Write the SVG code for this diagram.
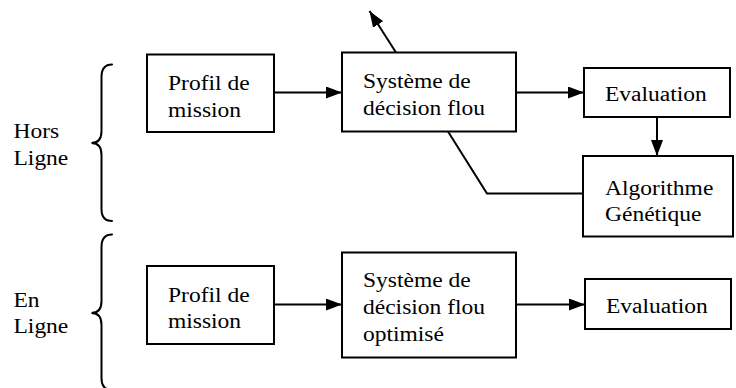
<svg xmlns="http://www.w3.org/2000/svg" width="736" height="388" viewBox="0 0 736 388">
  <style>
    .box { fill: #fff; stroke: #000; stroke-width: 2; }
    .t { font-family: "Liberation Serif", "Times New Roman", serif; font-size: 20px; fill: #000; }
    .wire { fill: none; stroke: #000; stroke-width: 2; }
    .brace { fill: none; stroke: #000; stroke-width: 2; stroke-linecap: round; }
  </style>
  <defs>
    <marker id="arrow" markerUnits="userSpaceOnUse" markerWidth="17" markerHeight="13" refX="16" refY="6" orient="auto">
      <path d="M0,0 L16,6 L0,12 z" fill="#000"/>
    </marker>
  </defs>
  <rect width="736" height="388" fill="#fff"/>

  <!-- phase labels with curly braces -->
  <g id="hors-ligne">
    <text class="t" transform="translate(13.5,138) scale(1.175,1)"><tspan x="0" y="0">Hors</tspan><tspan x="0" y="27">Ligne</tspan></text>
    <path class="brace" d="M112,64.5 Q101.5,64.5 101.5,77 L101.5,131 Q101.5,143 91.5,143 Q101.5,143 101.5,155 L101.5,209 Q101.5,221 112,221"/>
  </g>
  <g id="en-ligne">
    <text class="t" transform="translate(13.5,306.5) scale(1.175,1)"><tspan x="0" y="0">En</tspan><tspan x="0" y="27">Ligne</tspan></text>
    <path class="brace" d="M112,234.5 Q101.5,234.5 101.5,247 L101.5,301 Q101.5,313 91.5,313 Q101.5,313 101.5,325 L101.5,378 Q101.5,390 112,390"/>
  </g>

  <!-- connectors -->
  <g id="connectors">
    <line class="wire" x1="274" y1="92.5" x2="342" y2="92.5" marker-end="url(#arrow)"/>
    <line class="wire" x1="516" y1="92.5" x2="584" y2="92.5" marker-end="url(#arrow)"/>
    <line class="wire" x1="657" y1="117" x2="657" y2="156" marker-end="url(#arrow)"/>
    <line class="wire" x1="396" y1="52.5" x2="369.5" y2="11" marker-end="url(#arrow)"/>
    <polyline class="wire" points="448,131.5 487,193.5 583,193.5"/>
    <line class="wire" x1="274" y1="304.5" x2="342" y2="304.5" marker-end="url(#arrow)"/>
    <line class="wire" x1="516" y1="304.5" x2="585" y2="304.5" marker-end="url(#arrow)"/>
  </g>

  <!-- offline chain -->
  <g id="profil-1">
    <rect class="box" x="147" y="54.5" width="127" height="77.5"/>
    <text class="t" transform="translate(168,90) scale(1.175,1)"><tspan x="0" y="0">Profil de</tspan><tspan x="0" y="27">mission</tspan></text>
  </g>
  <g id="systeme-1">
    <rect class="box" x="342" y="52.5" width="174" height="79"/>
    <text class="t" transform="translate(363,88) scale(1.175,1)"><tspan x="0" y="0">Système de</tspan><tspan x="0" y="27">décision flou</tspan></text>
  </g>
  <g id="evaluation-1">
    <rect class="box" x="584" y="68" width="146" height="49"/>
    <text class="t" transform="translate(605,100.5) scale(1.175,1)">Evaluation</text>
  </g>
  <g id="algorithme">
    <rect class="box" x="583" y="156" width="150" height="80.5"/>
    <text class="t" transform="translate(605,194.5) scale(1.175,1)"><tspan x="0" y="0">Algorithme</tspan><tspan x="0" y="27">Génétique</tspan></text>
  </g>

  <!-- online chain -->
  <g id="profil-2">
    <rect class="box" x="147" y="266" width="127" height="78"/>
    <text class="t" transform="translate(168,301.5) scale(1.175,1)"><tspan x="0" y="0">Profil de</tspan><tspan x="0" y="27">mission</tspan></text>
  </g>
  <g id="systeme-2">
    <rect class="box" x="342" y="252.5" width="174" height="105"/>
    <text class="t" transform="translate(363,287) scale(1.175,1)"><tspan x="0" y="0">Système de</tspan><tspan x="0" y="27">décision flou</tspan><tspan x="0" y="54">optimisé</tspan></text>
  </g>
  <g id="evaluation-2">
    <rect class="box" x="585" y="279" width="146" height="50"/>
    <text class="t" transform="translate(606,312.5) scale(1.175,1)">Evaluation</text>
  </g>
</svg>
